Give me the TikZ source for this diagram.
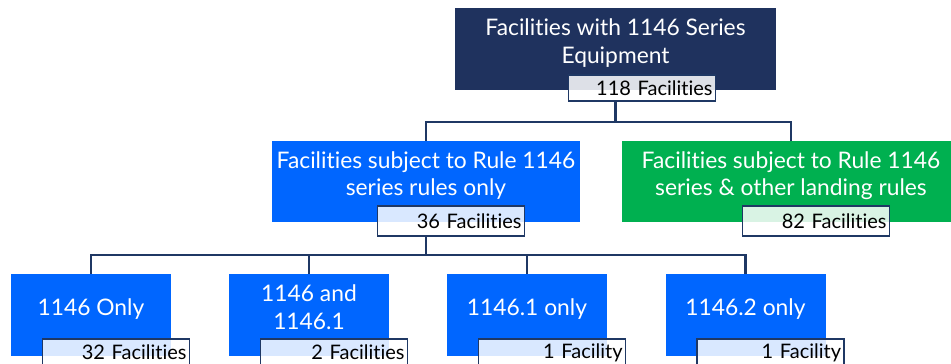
\documentclass[tikz,border=0pt]{standalone}
\usepackage{fontspec}
\setmainfont{Lato}[Ligatures={NoCommon}]
\usetikzlibrary{positioning}
\definecolor{navy}{RGB}{31,50,94}
\definecolor{brightblue}{RGB}{0,102,255}
\definecolor{leafgreen}{RGB}{0,176,80}
\definecolor{linenavy}{RGB}{31,56,100}
\newcommand{\boxtext}[1]{\begin{tabular}{@{}c@{}}#1\\[10pt]\end{tabular}}

\begin{document}
\begin{tikzpicture}[x=1pt,y=1pt,every node/.style={rectangle,inner sep=0pt},
  facbox/.style={text=white,font=\fontsize{22.8}{27.5}\selectfont},
  countbox/.style={draw=linenavy,line width=1.6pt,fill=white,fill opacity=0.85,text opacity=1,
                   minimum width=147pt,text width=141pt,align=right,font=\fontsize{20}{22}\selectfont},
  conn/.style={draw=linenavy,line width=2.2pt}]
\useasboundingbox (0,0) rectangle (951,364);
  \node(equip)[facbox,fill=navy,minimum width=321pt,minimum height=82pt] at (615.5,315) {\boxtext{Facilities with 1146 Series\\Equipment}};
  \node(equipn)[countbox,minimum height=26pt,below right=-16pt and 113pt of equip.south west]{118 Facilities};
%
  \node(subj)[facbox,fill=brightblue,minimum width=308pt,minimum height=81pt] at (426,182.5) {\boxtext{Facilities subject to Rule 1146\\series rules only}};
  \node(subjn)[countbox,minimum height=30pt,below right=-17pt and 105pt of subj.south west]{36 Facilities};
  \node(other)[facbox,fill=leafgreen,minimum width=338pt,minimum height=81pt] at (791,182.5) {\boxtext{Facilities subject to Rule 1146\\series \& other landing rules}};
  \node(othern)[countbox,minimum height=30pt,below right=-17pt and 120pt of other.south west]{82 Facilities};
%
  \node(only)[facbox,fill=brightblue,minimum width=160pt,minimum height=82pt] at (91,49) {\boxtext{1146 Only}};
  \node(onlyn)[countbox,minimum height=27pt,below right=-18pt and 31pt of only.south west]{32 Facilities};
  \node(andone)[facbox,fill=brightblue,minimum width=160pt,minimum height=82pt] at (309,49) {\boxtext{1146 and\\1146.1}};
  \node(andonen)[countbox,minimum height=27pt,below right=-18pt and 31pt of andone.south west]{2 Facilities};
  \node(oneone)[facbox,fill=brightblue,minimum width=160pt,minimum height=82pt] at (527,49) {\boxtext{1146.1 only}};
  \node(oneonen)[countbox,minimum height=27pt,below right=-18pt and 31pt of oneone.south west]{1 Facility};
  \node(onetwo)[facbox,fill=brightblue,minimum width=160pt,minimum height=82pt] at (745.5,49) {\boxtext{1146.2 only}};
  \node(onetwon)[countbox,minimum height=27pt,below right=-18pt and 31pt of onetwo.south west]{1 Facility};
%
\draw[conn](equip.south |- equipn.south)--++(0,-20)-|(subj.north);
\draw[conn](equip.south |- equipn.south)--++(0,-20)-|(other.north);
%
\draw[conn](subj.south |- subjn.south)--++(0,-18)-|(only.north);
\draw[conn](subj.south |- subjn.south)--++(0,-18)-|(andone.north);
\draw[conn](subj.south |- subjn.south)--++(0,-18)-|(oneone.north);
\draw[conn](subj.south |- subjn.south)--++(0,-18)-|(onetwo.north);
\end{tikzpicture}
\end{document}
